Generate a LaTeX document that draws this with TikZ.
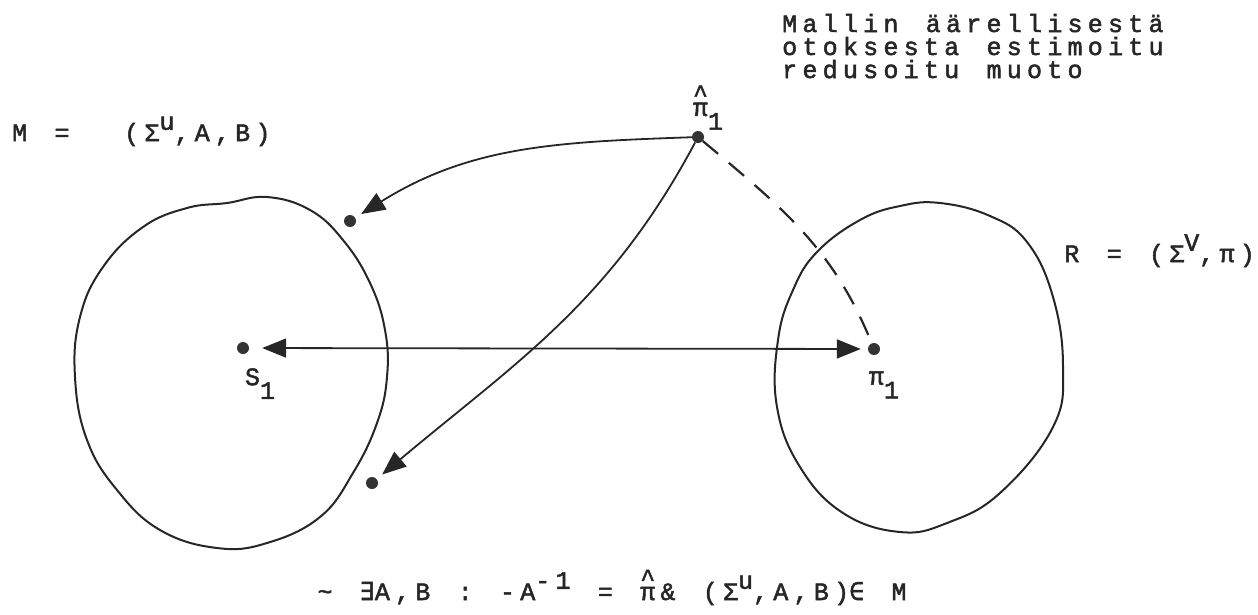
\documentclass[tikz,border=0pt]{standalone}
\usepackage{fontspec}
\usetikzlibrary{arrows.meta,positioning}
\newfontfamily\twfont[LetterSpace=21, WordSpace=1.35, FakeBold=2]{Liberation Mono}
\newfontfamily\opfont[FakeBold=2]{DejaVu Sans Mono}
\newcommand{\supch}[1]{\raisebox{0.45em}{#1}}
\newcommand{\subch}[1]{\raisebox{-0.55em}{#1}}
\newcommand{\hatpi}{\rlap{\raisebox{0.55em}{\textasciicircum}}π}

\begin{document}
\begin{tikzpicture}[
  x=1pt, y=-1pt,
  font=\twfont\fontsize{25}{23}\selectfont,
  ink/.style={black!85},
  rim/.style={ink, line width=2pt},
  spot/.style={circle, fill=black!80, inner sep=0pt, minimum size=12pt},
  arr/.style={-{Triangle[length=24pt,width=19pt]}, ink, line width=1.8pt, shorten >=7pt},
  both/.style={{Triangle[length=24pt,width=19pt]}-{Triangle[length=24pt,width=19pt]},
               ink, line width=1.8pt, shorten <=13pt, shorten >=7pt},
  guess/.style={ink, line width=2.2pt, dash pattern=on 20pt off 14pt},
  lbl/.style={inner sep=0pt, text=black!85},
]
\useasboundingbox (0,0) rectangle (1258,614);

% ---------- the two sets ----------
\draw[rim] plot[smooth cycle, tension=0.7] coordinates {
  (227,203) (267,197) (310,210) (343,240) (370,283) (385,330) (387,377)
  (377,423) (353,473) (320,517) (267,543) (217,548) (160,530) (117,490)
  (87,440) (75,377) (80,317) (103,267) (143,227) (187,208)};
\draw[rim] plot[smooth cycle, tension=0.7] coordinates {
  (940,203) (990,216) (1027,242) (1053,297) (1063,367) (1053,427)
  (1000,493) (947,523) (900,532) (843,513) (800,467) (777,407)
  (778,340) (793,290) (817,252) (860,220) (900,206)};

% ---------- points ----------
\node[spot] (pihat) at (698,137) {};
\node[spot] (mA) at (350,221) {};
\node[spot] (mB) at (372,483) {};
\node[spot] (s1) at (243,348) {};
\node[spot] (pi1) at (874,349) {};

% ---------- labels ----------
\node[lbl, anchor=base west] (mlab) at (12,141) {M =\ \ (Σ\supch{u},A,B)};
\node[lbl, anchor=base east] (rlab) at (1255,262) {R = (Σ\supch{V},π)};
\node[lbl, anchor=base west] (note1) at (782,32) {Mallin äärellisestä};
\node[lbl, anchor=base west] (note2) at (782,55) {otoksesta estimoitu};
\node[lbl, anchor=base west] (note3) at (782,78) {redusoitu muoto};
\node[lbl, below=14pt of s1, xshift=17pt] (s1lab) {S\subch{1}};
\node[lbl, below=16pt of pi1, xshift=10pt] (pi1lab) {π\subch{1}};
\node[lbl, above=1pt of pihat, xshift=10pt] (pihatlab) {\hatpi\subch{1}};
\node[lbl, anchor=base] (cond) at (612,600)
  {\textasciitilde{} {\opfont ∃}A,B : -A\supch{-1} = \hatpi\& (Σ\supch{u},A,B){\opfont ∈} M};

% ---------- arrows ----------
\draw[arr] (pihat) to[out=182,in=32] (mA);
\draw[arr] (pihat) to[out=-118,in=40] (mB);
\draw[both] (s1) -- (pi1);
\draw[guess] (pihat) to[out=-40,in=112] (pi1);

\end{tikzpicture}
\end{document}
